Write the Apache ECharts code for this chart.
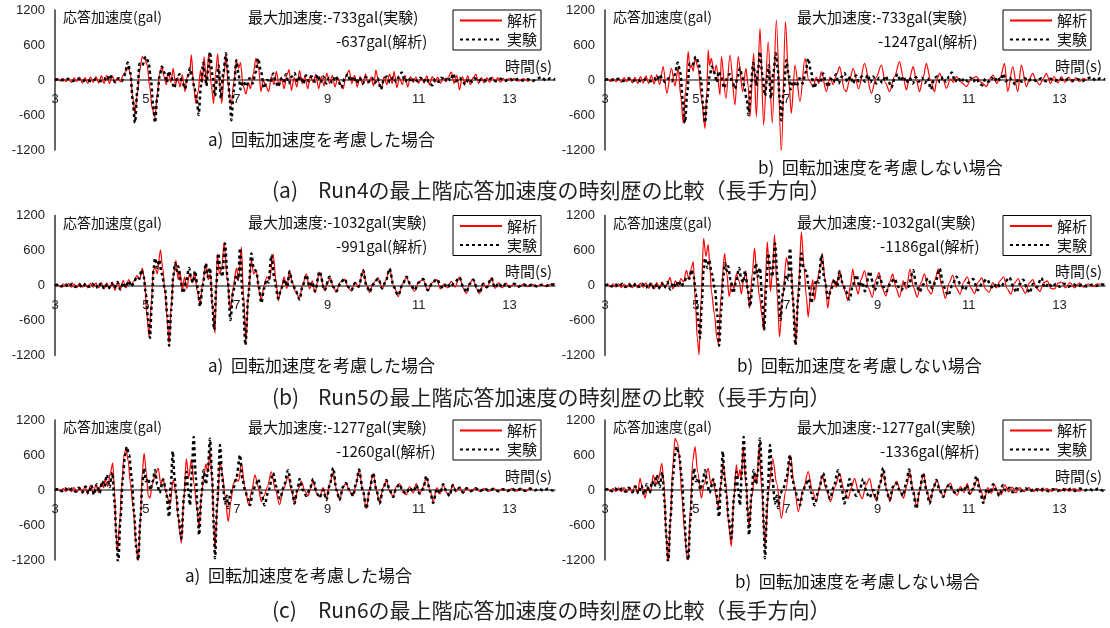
<!DOCTYPE html>
<html><head><meta charset="utf-8">
<script src="https://cdn.jsdelivr.net/npm/echarts@6/dist/echarts.min.js"></script>
<style>html,body{margin:0;padding:0;background:#fff}#c{width:1110px;height:628px}</style>
</head><body><div id="c"></div>
<script>
// ---- tick labels ----
const xTicks = [3, 5, 7, 9, 11, 13];
const xRange = [3, 14];
const yTicks = [-1200, -600, 0, 600, 1200];
const seriesNames = ['解析', '実験'];

// ---- Run4 ----
const run4Exp = [[3.0,0],[3.1,15],[3.2,-10],[3.3,20],[3.4,-15],[3.5,25],[3.6,-20],[3.7,10],[3.8,-25],[3.9,15],[4.0,-20],[4.08,30],[4.15,-15],[4.2,90],[4.28,-10],[4.33,-40],[4.4,30],[4.47,-20],[4.53,80],[4.6,300],[4.66,120],[4.71,-350],[4.76,-733],[4.81,-200],[4.86,280],[4.92,250],[5.0,400],[5.06,300],[5.11,0],[5.16,-450],[5.2,-730],[5.25,-300],[5.3,60],[5.35,230],[5.41,120],[5.46,-40],[5.5,150],[5.56,40],[5.62,-140],[5.68,20],[5.74,100],[5.8,-30],[5.86,-150],[5.92,60],[5.97,200],[6.02,50],[6.07,-150],[6.12,-350],[6.16,-600],[6.21,-100],[6.26,290],[6.3,100],[6.33,-100],[6.37,200],[6.41,480],[6.46,100],[6.52,-270],[6.56,0],[6.6,250],[6.65,-310],[6.7,100],[6.76,460],[6.8,200],[6.84,-300],[6.88,-690],[6.93,-200],[6.99,340],[7.04,100],[7.08,-160],[7.14,-20],[7.21,-110],[7.28,30],[7.35,-60],[7.41,120],[7.47,370],[7.53,150],[7.6,-140],[7.67,0],[7.74,-40],[7.8,110],[7.86,-40],[7.91,-120],[7.97,20],[8.03,-40],[8.08,100],[8.14,-60],[8.2,50],[8.27,120],[8.33,-30],[8.4,60],[8.46,-60],[8.52,80],[8.58,-20],[8.65,60],[8.72,-30],[8.78,90],[8.84,-40],[8.9,60],[8.97,-60],[9.03,40],[9.1,-50],[9.17,70],[9.24,-30],[9.3,-130],[9.37,20],[9.44,100],[9.5,-20],[9.57,60],[9.63,-50],[9.7,40],[9.77,-60],[9.84,50],[9.9,-30],[9.97,40],[10.04,-50],[10.1,30],[10.17,-160],[10.24,20],[10.3,60],[10.37,-40],[10.44,50],[10.5,-30],[10.57,60],[10.63,130],[10.7,-30],[10.77,40],[10.84,-40],[10.9,30],[10.97,-20],[11.04,40],[11.1,-30],[11.17,30],[11.24,-60],[11.3,-90],[11.37,20],[11.44,-30],[11.5,40],[11.57,-20],[11.64,50],[11.7,-10],[11.76,110],[11.82,-20],[11.9,40],[11.97,-30],[12.03,-80],[12.1,20],[12.17,-30],[12.24,30],[12.3,-20],[12.4,20],[12.5,-20],[12.6,30],[12.7,-20],[12.8,20],[12.9,-15],[13.0,25],[13.1,-15],[13.2,20],[13.3,-10],[13.4,15],[13.5,-20],[13.6,20],[13.7,50],[13.8,-10],[13.9,30],[14.0,10]];
const run4AnaRot = [[3.0,0],[3.06,25],[3.12,-20],[3.18,30],[3.24,-30],[3.3,20],[3.36,-40],[3.42,35],[3.48,-25],[3.54,50],[3.6,-50],[3.66,40],[3.72,-60],[3.78,50],[3.84,-40],[3.9,60],[3.96,-50],[4.02,70],[4.08,-60],[4.14,80],[4.2,-60],[4.26,70],[4.32,-40],[4.38,40],[4.44,-30],[4.5,90],[4.56,150],[4.61,230],[4.66,100],[4.71,-300],[4.76,-570],[4.81,-250],[4.86,150],[4.92,400],[4.98,350],[5.03,250],[5.08,-100],[5.14,-500],[5.2,-637],[5.25,-250],[5.3,100],[5.35,230],[5.4,60],[5.45,-80],[5.5,130],[5.55,-40],[5.6,200],[5.65,-80],[5.7,40],[5.75,-120],[5.8,90],[5.86,-200],[5.9,40],[5.96,120],[6.0,430],[6.05,-100],[6.1,-400],[6.15,-200],[6.2,170],[6.24,-50],[6.28,400],[6.33,-100],[6.38,440],[6.44,-100],[6.49,-400],[6.53,100],[6.58,450],[6.63,-150],[6.67,-400],[6.72,100],[6.76,440],[6.81,-100],[6.88,-430],[6.93,-50],[6.99,320],[7.04,200],[7.08,300],[7.14,-100],[7.2,-240],[7.26,-50],[7.3,-150],[7.36,100],[7.42,370],[7.48,200],[7.53,-200],[7.58,0],[7.64,-100],[7.7,-200],[7.76,60],[7.82,-80],[7.87,150],[7.93,-100],[7.98,50],[8.04,-150],[8.1,80],[8.15,180],[8.2,-180],[8.26,40],[8.32,-120],[8.38,160],[8.44,-60],[8.5,60],[8.56,-150],[8.62,80],[8.68,-40],[8.74,100],[8.8,-150],[8.86,60],[8.92,-100],[8.98,120],[9.04,-60],[9.1,80],[9.16,-120],[9.22,40],[9.28,-80],[9.34,-150],[9.4,60],[9.47,170],[9.53,-60],[9.59,80],[9.65,-120],[9.71,60],[9.77,-80],[9.83,100],[9.89,-60],[9.95,40],[10.01,-100],[10.06,170],[10.12,-40],[10.18,-150],[10.24,60],[10.3,-80],[10.36,100],[10.42,-60],[10.46,150],[10.52,-130],[10.58,40],[10.64,-80],[10.7,80],[10.76,-120],[10.82,60],[10.88,-40],[10.94,50],[11.0,-60],[11.06,40],[11.12,-50],[11.18,70],[11.24,-80],[11.3,60],[11.36,-40],[11.42,50],[11.48,-60],[11.54,40],[11.6,-30],[11.66,60],[11.72,140],[11.78,-60],[11.84,80],[11.9,-170],[11.96,60],[12.02,-50],[12.08,70],[12.14,-80],[12.2,40],[12.26,100],[12.32,-60],[12.38,40],[12.44,-50],[12.5,40],[12.56,-40],[12.62,50],[12.68,-30],[12.74,40],[12.8,-40],[12.86,30],[12.92,-30],[12.98,30],[13.04,-20],[13.1,30],[13.2,-20],[13.3,25],[13.4,-20],[13.45,0]];
const run4AnaNoRot = [[3.0,0],[3.06,20],[3.12,-25],[3.18,30],[3.24,-30],[3.3,25],[3.36,-40],[3.42,40],[3.48,-30],[3.54,50],[3.6,-50],[3.66,45],[3.72,-60],[3.78,60],[3.84,-50],[3.9,70],[3.96,-60],[4.02,80],[4.08,-70],[4.14,90],[4.2,-80],[4.28,230],[4.36,-230],[4.46,200],[4.54,-100],[4.61,200],[4.67,-300],[4.72,-740],[4.77,-200],[4.83,485],[4.87,200],[4.9,257],[4.94,150],[4.98,370],[5.05,200],[5.12,-300],[5.2,-830],[5.24,-200],[5.27,514],[5.3,250],[5.34,370],[5.4,100],[5.45,257],[5.53,-257],[5.56,400],[5.66,-314],[5.75,428],[5.86,-428],[5.93,400],[6.03,-200],[6.1,200],[6.15,-100],[6.19,-630],[6.27,457],[6.33,-630],[6.41,885],[6.49,-770],[6.59,657],[6.68,-740],[6.77,1028],[6.88,-1247],[6.97,1000],[7.04,0],[7.1,-570],[7.18,257],[7.29,-370],[7.4,370],[7.48,0],[7.58,-114],[7.65,50],[7.7,-60],[7.76,143],[7.87,-200],[7.95,50],[8.02,-80],[8.1,100],[8.16,228],[8.27,-170],[8.31,-200],[8.38,0],[8.46,200],[8.58,-150],[8.71,285],[8.86,-228],[8.97,50],[9.08,257],[9.17,-50],[9.26,-200],[9.37,60],[9.48,314],[9.56,50],[9.63,-170],[9.7,40],[9.78,228],[9.85,0],[9.92,-200],[10.0,40],[10.07,285],[10.16,0],[10.25,-200],[10.3,0],[10.36,114],[10.44,0],[10.51,-143],[10.6,20],[10.66,-40],[10.73,57],[10.84,-40],[10.95,-114],[11.06,20],[11.17,57],[11.28,-40],[11.39,-114],[11.47,20],[11.54,86],[11.62,-60],[11.7,50],[11.79,285],[11.86,-200],[11.97,228],[12.08,-200],[12.16,257],[12.27,-114],[12.34,20],[12.41,114],[12.48,0],[12.56,-86],[12.64,20],[12.71,114],[12.8,-60],[12.88,60],[12.96,-50],[13.04,60],[13.12,-40],[13.2,50],[13.28,-40],[13.36,40],[13.44,-30],[13.52,30],[13.6,0]];

// ---- Run5 ----
const run5Exp = [[3.0,0],[3.08,20],[3.15,-15],[3.22,25],[3.3,-20],[3.38,30],[3.45,-25],[3.52,20],[3.6,-30],[3.68,35],[3.75,-20],[3.82,30],[3.9,-40],[3.97,40],[4.04,-50],[4.1,30],[4.17,-60],[4.24,40],[4.3,-40],[4.37,60],[4.44,-70],[4.5,50],[4.56,-30],[4.62,80],[4.68,-20],[4.74,60],[4.8,150],[4.86,120],[4.9,270],[4.95,150],[5.0,-150],[5.05,-600],[5.09,-900],[5.13,-300],[5.17,300],[5.2,470],[5.25,300],[5.29,440],[5.35,200],[5.42,-70],[5.47,-500],[5.51,-1032],[5.56,-400],[5.6,150],[5.64,380],[5.68,250],[5.71,330],[5.76,100],[5.82,-130],[5.88,50],[5.95,300],[6.0,100],[6.04,50],[6.08,250],[6.14,-50],[6.19,-360],[6.25,0],[6.32,380],[6.36,150],[6.41,300],[6.46,-300],[6.5,-760],[6.55,0],[6.59,550],[6.64,300],[6.68,150],[6.74,720],[6.8,100],[6.86,-590],[6.92,-100],[6.99,180],[7.03,100],[7.07,640],[7.13,-200],[7.19,-1020],[7.25,-200],[7.32,550],[7.37,300],[7.43,240],[7.48,0],[7.54,-300],[7.6,-50],[7.65,100],[7.7,50],[7.76,520],[7.83,100],[7.91,-220],[7.98,-50],[8.06,100],[8.11,-20],[8.16,240],[8.22,50],[8.3,-100],[8.38,-240],[8.45,0],[8.53,180],[8.6,-20],[8.66,60],[8.72,-100],[8.82,240],[8.93,-80],[9.04,150],[9.12,-20],[9.19,-100],[9.28,40],[9.37,120],[9.45,-20],[9.52,-80],[9.6,40],[9.68,-20],[9.78,260],[9.85,0],[9.92,-110],[10.0,20],[10.11,120],[10.2,-50],[10.28,80],[10.36,290],[10.45,-20],[10.55,-170],[10.64,0],[10.73,150],[10.82,20],[10.91,-80],[11.0,50],[11.1,110],[11.2,-80],[11.3,40],[11.4,110],[11.5,-20],[11.55,-50],[11.62,40],[11.7,-30],[11.8,60],[11.9,140],[11.98,-20],[12.05,-120],[12.12,20],[12.2,100],[12.28,-30],[12.34,-130],[12.42,30],[12.5,-30],[12.6,130],[12.68,-40],[12.76,40],[12.84,-30],[12.92,30],[13.0,-20],[13.1,30],[13.2,-20],[13.3,20],[13.4,-15],[13.5,20],[13.6,-15],[13.7,15],[13.8,-10],[13.9,20],[14.0,10]];
const run5AnaRot = [[3.0,0],[3.06,20],[3.12,-25],[3.18,30],[3.24,-20],[3.3,35],[3.36,-30],[3.42,25],[3.48,-35],[3.54,40],[3.6,-30],[3.66,30],[3.72,-40],[3.78,35],[3.84,-30],[3.9,45],[3.96,-40],[4.02,50],[4.08,-60],[4.14,40],[4.2,-50],[4.26,60],[4.32,-80],[4.38,70],[4.44,-60],[4.5,90],[4.56,-40],[4.62,100],[4.68,20],[4.74,80],[4.8,170],[4.86,100],[4.92,300],[4.97,100],[5.02,-500],[5.07,-880],[5.12,-300],[5.16,250],[5.2,320],[5.25,200],[5.32,610],[5.37,300],[5.42,-100],[5.47,-600],[5.51,-991],[5.56,-300],[5.61,200],[5.66,430],[5.71,100],[5.75,250],[5.8,-100],[5.85,150],[5.9,-50],[5.96,200],[6.02,50],[6.07,220],[6.13,-100],[6.19,-320],[6.25,50],[6.32,380],[6.37,100],[6.42,200],[6.47,-400],[6.52,-820],[6.57,540],[6.62,200],[6.67,300],[6.72,740],[6.79,100],[6.86,-430],[6.92,-50],[6.99,300],[7.04,100],[7.1,660],[7.15,-200],[7.2,-970],[7.26,-100],[7.32,430],[7.37,200],[7.43,250],[7.49,-100],[7.54,-250],[7.6,0],[7.66,150],[7.72,100],[7.8,540],[7.86,100],[7.91,-260],[7.98,-50],[8.04,150],[8.1,-50],[8.16,260],[8.22,50],[8.3,-120],[8.38,-220],[8.45,20],[8.53,200],[8.6,-60],[8.66,80],[8.72,-120],[8.82,230],[8.93,-90],[9.0,60],[9.06,130],[9.12,-40],[9.19,-100],[9.28,60],[9.37,110],[9.45,-40],[9.52,-90],[9.6,60],[9.68,-30],[9.78,270],[9.85,20],[9.92,-120],[10.0,40],[10.11,130],[10.2,-60],[10.28,90],[10.36,280],[10.45,0],[10.55,-190],[10.64,20],[10.73,140],[10.82,0],[10.91,-100],[11.0,60],[11.1,100],[11.2,-90],[11.3,50],[11.4,100],[11.48,-60],[11.56,30],[11.64,-40],[11.72,70],[11.8,-30],[11.9,150],[11.98,-40],[12.05,-140],[12.12,40],[12.2,110],[12.28,-60],[12.34,-140],[12.42,40],[12.5,-40],[12.6,130],[12.68,-50],[12.76,50],[12.84,-40],[12.92,40],[13.0,-30],[13.1,30],[13.2,-25],[13.3,20],[13.4,-20],[13.5,20],[13.6,-10],[13.7,15],[13.8,-15],[13.9,20],[14.0,30]];
const run5AnaNoRot = [[3.0,0],[3.06,25],[3.12,-20],[3.18,30],[3.24,-25],[3.3,30],[3.36,-35],[3.42,25],[3.48,-30],[3.54,40],[3.6,-35],[3.66,30],[3.72,-40],[3.78,40],[3.84,-30],[3.9,45],[3.96,-50],[4.02,40],[4.08,-60],[4.14,50],[4.2,-50],[4.26,60],[4.32,-40],[4.38,50],[4.43,140],[4.49,-60],[4.55,80],[4.61,-20],[4.67,120],[4.73,60],[4.79,260],[4.85,100],[4.9,300],[4.94,410],[4.99,-300],[5.03,-900],[5.07,-1186],[5.11,-300],[5.17,810],[5.22,500],[5.27,700],[5.31,300],[5.34,-100],[5.41,-500],[5.46,-900],[5.5,-1010],[5.55,-200],[5.63,550],[5.68,200],[5.73,-190],[5.79,50],[5.84,-50],[5.89,200],[5.95,80],[6.0,-150],[6.05,100],[6.1,250],[6.14,-100],[6.18,-390],[6.24,200],[6.29,640],[6.34,200],[6.4,-200],[6.45,-500],[6.49,-770],[6.53,100],[6.57,750],[6.61,300],[6.64,-100],[6.68,200],[6.73,870],[6.79,-200],[6.84,-880],[6.91,-200],[6.99,480],[7.04,300],[7.1,250],[7.15,-400],[7.2,-1000],[7.26,0],[7.32,920],[7.38,300],[7.43,-200],[7.47,-540],[7.53,-100],[7.57,100],[7.61,-250],[7.67,100],[7.73,300],[7.78,550],[7.84,100],[7.9,-390],[7.96,-50],[8.02,100],[8.09,-30],[8.16,260],[8.23,20],[8.28,-100],[8.34,-260],[8.4,0],[8.45,280],[8.51,0],[8.57,-150],[8.63,100],[8.71,250],[8.8,-50],[8.88,-200],[8.96,100],[9.03,220],[9.1,-50],[9.18,-180],[9.26,60],[9.33,200],[9.4,-40],[9.48,-200],[9.56,80],[9.63,-60],[9.71,280],[9.79,-40],[9.87,-200],[9.95,50],[10.03,200],[10.11,-80],[10.18,-150],[10.26,100],[10.33,280],[10.41,-20],[10.49,-220],[10.57,40],[10.65,180],[10.73,-40],[10.81,-150],[10.89,60],[10.97,150],[11.05,-40],[11.13,-140],[11.21,60],[11.29,130],[11.37,-60],[11.45,-120],[11.53,50],[11.61,-40],[11.69,80],[11.77,150],[11.85,-60],[11.93,-150],[12.01,40],[12.09,120],[12.17,-40],[12.25,-140],[12.33,40],[12.41,100],[12.49,-40],[12.57,-100],[12.65,50],[12.73,80],[12.81,-50],[12.89,-60],[12.97,40],[13.05,60],[13.13,-40],[13.23,50],[13.33,-40],[13.43,40],[13.53,-30],[13.63,30],[13.73,-20],[13.83,30],[13.93,20]];

// ---- Run6 ----
const run6Exp = [[3.0,0],[3.08,20],[3.15,-20],[3.22,30],[3.3,-15],[3.38,25],[3.45,-30],[3.52,40],[3.6,-40],[3.67,60],[3.74,-60],[3.8,80],[3.86,-80],[3.92,100],[3.98,-50],[4.04,150],[4.09,60],[4.14,260],[4.2,50],[4.26,300],[4.31,-200],[4.35,-800],[4.39,-1277],[4.44,-500],[4.49,200],[4.54,600],[4.58,740],[4.63,600],[4.69,200],[4.74,-400],[4.79,-1000],[4.83,-1200],[4.88,-500],[4.92,100],[4.96,370],[5.0,150],[5.05,200],[5.1,0],[5.15,150],[5.2,340],[5.25,100],[5.3,-50],[5.38,180],[5.44,0],[5.51,-460],[5.55,100],[5.59,660],[5.63,200],[5.67,-100],[5.72,-500],[5.78,-830],[5.84,-100],[5.89,310],[5.93,0],[5.97,-260],[6.01,300],[6.05,910],[6.1,200],[6.14,-400],[6.17,-770],[6.22,-100],[6.27,340],[6.32,100],[6.36,300],[6.41,880],[6.46,200],[6.49,-600],[6.52,-1170],[6.57,-200],[6.63,770],[6.68,200],[6.74,-230],[6.78,-100],[6.81,-310],[6.86,-50],[6.92,20],[6.99,200],[7.07,600],[7.12,200],[7.18,0],[7.24,-150],[7.29,-260],[7.36,0],[7.42,100],[7.47,190],[7.54,-50],[7.61,-260],[7.7,0],[7.8,290],[7.87,50],[7.95,-150],[8.03,50],[8.13,340],[8.2,50],[8.27,-230],[8.33,0],[8.38,190],[8.45,0],[8.53,-100],[8.6,0],[8.68,190],[8.76,-60],[8.82,-130],[8.9,0],[8.97,-170],[9.05,100],[9.12,380],[9.19,0],[9.26,-170],[9.34,60],[9.4,120],[9.48,0],[9.56,-100],[9.62,100],[9.69,350],[9.77,0],[9.85,-320],[9.92,0],[10.0,290],[10.07,0],[10.14,-230],[10.22,20],[10.29,170],[10.36,0],[10.44,-120],[10.51,40],[10.58,100],[10.65,-20],[10.73,-60],[10.8,40],[10.88,-30],[10.95,80],[11.02,-60],[11.1,20],[11.17,240],[11.25,-20],[11.32,-220],[11.4,20],[11.47,-60],[11.54,100],[11.62,-40],[11.68,-100],[11.75,80],[11.82,-20],[11.9,40],[11.98,-40],[12.05,30],[12.15,-20],[12.25,30],[12.35,-20],[12.45,25],[12.55,-15],[12.65,20],[12.75,-20],[12.85,15],[12.95,-20],[13.05,20],[13.15,-15],[13.25,20],[13.35,-15],[13.45,25],[13.55,-10],[13.65,20],[13.75,-15],[13.85,25],[13.95,-10],[14.0,5]];
const run6AnaRot = [[3.0,0],[3.06,25],[3.12,-20],[3.18,30],[3.24,-25],[3.3,35],[3.36,-30],[3.42,40],[3.48,-40],[3.54,50],[3.6,-50],[3.66,60],[3.72,-70],[3.78,80],[3.84,-60],[3.9,90],[3.96,-40],[4.02,120],[4.07,40],[4.1,180],[4.16,60],[4.22,300],[4.27,460],[4.31,0],[4.34,-700],[4.37,-1060],[4.42,-600],[4.47,100],[4.52,600],[4.56,710],[4.61,500],[4.66,100],[4.72,-300],[4.78,-900],[4.83,-1260],[4.88,-500],[4.92,300],[4.96,630],[5.01,300],[5.05,-100],[5.09,-140],[5.14,100],[5.2,250],[5.27,370],[5.33,100],[5.38,200],[5.44,-50],[5.53,-250],[5.6,170],[5.65,0],[5.7,-400],[5.74,-700],[5.78,-910],[5.83,-200],[5.89,540],[5.94,200],[6.0,520],[6.06,100],[6.12,-300],[6.17,-660],[6.22,-100],[6.27,200],[6.32,450],[6.36,300],[6.41,660],[6.46,100],[6.49,-500],[6.52,-1000],[6.57,-300],[6.63,490],[6.68,300],[6.74,-100],[6.81,-540],[6.87,-200],[6.92,100],[6.98,190],[7.04,150],[7.1,460],[7.18,50],[7.26,-260],[7.33,0],[7.4,260],[7.47,50],[7.54,-200],[7.6,-100],[7.67,50],[7.76,310],[7.85,0],[7.94,-250],[8.02,0],[8.13,230],[8.2,0],[8.27,-220],[8.34,0],[8.42,150],[8.5,-20],[8.57,-100],[8.62,20],[8.68,170],[8.75,-50],[8.82,-120],[8.9,40],[8.97,-150],[9.04,100],[9.12,300],[9.19,20],[9.26,-170],[9.34,50],[9.4,120],[9.48,-20],[9.56,-100],[9.62,80],[9.69,350],[9.77,0],[9.85,-320],[9.92,20],[10.0,280],[10.07,0],[10.14,-220],[10.22,40],[10.29,170],[10.36,-20],[10.44,-110],[10.51,60],[10.58,110],[10.65,-40],[10.73,-80],[10.8,60],[10.88,-50],[10.95,110],[11.02,-70],[11.1,50],[11.17,220],[11.25,0],[11.32,-200],[11.4,40],[11.47,-70],[11.54,90],[11.62,-50],[11.68,-90],[11.75,100],[11.82,-30],[11.9,50],[11.98,-60],[12.05,40],[12.15,-30],[12.25,40],[12.35,-30],[12.45,30],[12.55,-25],[12.65,30],[12.75,-25],[12.85,25],[12.95,-20],[13.05,30],[13.15,-20],[13.25,30],[13.35,-20],[13.45,30],[13.5,0]];
const run6AnaNoRot = [[3.0,0],[3.06,25],[3.12,-20],[3.18,30],[3.24,-25],[3.3,35],[3.36,-30],[3.42,40],[3.48,-40],[3.54,50],[3.6,-50],[3.66,80],[3.72,-60],[3.77,200],[3.82,40],[3.88,-140],[3.94,60],[4.0,-50],[4.06,257],[4.12,100],[4.18,200],[4.25,457],[4.3,100],[4.34,-700],[4.39,-1336],[4.44,-500],[4.49,400],[4.54,885],[4.6,800],[4.64,500],[4.69,-100],[4.75,-700],[4.8,-1150],[4.83,-1200],[4.88,-300],[4.93,500],[4.98,743],[5.04,300],[5.12,-140],[5.18,100],[5.27,370],[5.33,100],[5.38,200],[5.44,-100],[5.49,-285],[5.55,100],[5.6,457],[5.66,100],[5.72,-600],[5.78,-970],[5.83,-200],[5.89,430],[5.93,200],[5.97,350],[6.0,200],[6.04,743],[6.1,100],[6.17,-630],[6.23,-100],[6.3,300],[6.34,100],[6.39,743],[6.45,0],[6.52,-943],[6.6,0],[6.69,540],[6.78,100],[6.88,-485],[6.98,0],[7.08,600],[7.16,100],[7.25,-370],[7.36,0],[7.47,314],[7.56,0],[7.65,-200],[7.72,50],[7.78,257],[7.87,0],[7.96,-200],[8.06,50],[8.16,285],[8.26,0],[8.35,-150],[8.42,40],[8.49,200],[8.58,-40],[8.66,-150],[8.74,80],[8.82,200],[8.9,-60],[8.97,-180],[9.05,100],[9.12,300],[9.2,0],[9.27,-200],[9.35,60],[9.42,150],[9.5,-30],[9.57,-140],[9.64,80],[9.7,320],[9.78,0],[9.86,-300],[9.93,30],[10.01,280],[10.08,0],[10.15,-220],[10.23,40],[10.3,180],[10.38,-20],[10.45,-120],[10.52,60],[10.6,120],[10.67,-40],[10.75,-90],[10.82,60],[10.9,-40],[10.97,110],[11.04,-70],[11.12,50],[11.19,200],[11.27,0],[11.34,-180],[11.42,40],[11.5,-60],[11.57,90],[11.65,-50],[11.72,-80],[11.8,90],[11.88,-30],[11.96,50],[12.04,-50],[12.12,40],[12.22,-30],[12.32,40],[12.42,-30],[12.52,30],[12.62,-25],[12.72,30],[12.82,-25],[12.92,25],[13.02,-20],[13.12,30],[13.22,-20],[13.32,30],[13.42,-20],[13.5,0]];

// ---- texts ----
const maxExpTexts = ['最大加速度:-733gal(実験)', '最大加速度:-733gal(実験)', '最大加速度:-1032gal(実験)', '最大加速度:-1032gal(実験)', '最大加速度:-1277gal(実験)', '最大加速度:-1277gal(実験)'];
const maxAnaTexts = ['-637gal(解析)', '-1247gal(解析)', '-991gal(解析)', '-1186gal(解析)', '-1260gal(解析)', '-1336gal(解析)'];
const panelCaptions = ['a)  回転加速度を考慮した場合', 'b)  回転加速度を考慮しない場合', 'a)  回転加速度を考慮した場合', 'b)  回転加速度を考慮しない場合', 'a)  回転加速度を考慮した場合', 'b)  回転加速度を考慮しない場合'];
const rowCaptionTags = ['(a)', '(b)', '(c)'];
const rowCaptions = ['Run4の最上階応答加速度の時刻歴の比較（長手方向）', 'Run5の最上階応答加速度の時刻歴の比較（長手方向）', 'Run6の最上階応答加速度の時刻歴の比較（長手方向）'];
const yTitle = '応答加速度(gal)';
const xTitle = '時間(s)';

// ---- layout (pixels) ----
const JP = "'Noto Sans CJK JP', sans-serif";
const NUM = "'Liberation Sans', Arial, sans-serif";
const panelData = [
  [run4AnaRot, run4Exp], [run4AnaNoRot, run4Exp],
  [run5AnaRot, run5Exp], [run5AnaNoRot, run5Exp],
  [run6AnaRot, run6Exp], [run6AnaNoRot, run6Exp]
];
const rowZero = [80, 285.5, 490];
const colLeft = [55, 605];
const capPos = [[208, 140], [758, 168], [208, 366], [737, 366], [185, 576], [735, 582]];
const line2X = [336, 878, 336, 880, 336, 880];
const rowCapY = [190, 397, 610];

const grids = [], xAxes = [], yAxes = [], series = [], legends = [], graphics = [];
panelData.forEach((pd, i) => {
  const r = Math.floor(i / 2), c = i % 2;
  const z = rowZero[r], L = colLeft[c], off = c * 550;
  grids.push({ left: L, top: z - 70, width: 500, height: 140, containLabel: false });
  xAxes.push({
    type: 'value', gridIndex: i, min: xRange[0], max: xRange[1], interval: 2,
    position: 'bottom', offset: -70,
    axisLine: { onZero: false, lineStyle: { color: '#555', width: 1.5 } },
    axisTick: { show: false }, splitLine: { show: false },
    axisLabel: { margin: 13, fontSize: 13, color: '#222', fontFamily: NUM,
      formatter: v => xTicks.includes(v) ? String(v) : '' }
  });
  yAxes.push({
    type: 'value', gridIndex: i, min: yTicks[0], max: yTicks[yTicks.length - 1], interval: 600,
    axisLine: { show: true, lineStyle: { color: '#333', width: 1.5 } },
    axisTick: { show: false }, splitLine: { show: false },
    axisLabel: { margin: 10, fontSize: 13, color: '#222', fontFamily: NUM,
      formatter: v => yTicks.includes(v) ? String(v) : '' }
  });
  series.push({ name: seriesNames[0], type: 'line', xAxisIndex: i, yAxisIndex: i, data: pd[0],
    symbol: 'none', showSymbol: false, smooth: 0.3, smoothMonotone: 'x',
    lineStyle: { color: '#ff0000', width: 1.2 }, itemStyle: { color: '#ff0000' }, z: 2 });
  series.push({ name: seriesNames[1], type: 'line', xAxisIndex: i, yAxisIndex: i, data: pd[1],
    symbol: 'none', showSymbol: false, smooth: 0.3, smoothMonotone: 'x',
    lineStyle: { color: '#000', width: 2.5, type: [3, 3] }, itemStyle: { color: '#000' }, z: 3 });
  legends.push({
    data: seriesNames, orient: 'vertical', left: 453 + off, top: z - 70,
    itemWidth: 42, itemHeight: 14, itemGap: 4, padding: [3, 4, 3, 6],
    itemStyle: { opacity: 0 },
    borderColor: '#000', borderWidth: 1, backgroundColor: '#fff',
    textStyle: { fontSize: 15, color: '#111', fontFamily: JP }, selectedMode: false
  });
  const ts = (text, x, y, size, align) => ({ type: 'text', x: x, y: y, silent: true,
    style: { text, fontSize: size, fontFamily: JP, fill: '#111', textAlign: align || 'left', align: align || 'left',
      textVerticalAlign: 'middle', verticalAlign: 'middle' } });
  graphics.push(ts(yTitle, L + 8, z - 63, 14));
  graphics.push(ts(maxExpTexts[i], 248 + off - (c ? 1 : 0), z - 63, 15));
  graphics.push(ts(maxAnaTexts[i], line2X[i], z - 39, 15));
  graphics.push(ts(xTitle, 505 + off, z - 14, 15));
  graphics.push(ts(panelCaptions[i], capPos[i][0], capPos[i][1], 17));
});
rowCaptions.forEach((t, r) => {
  [[rowCaptionTags[r], 272], [t, 318]].forEach(([txt, x]) => {
    graphics.push({ type: 'text', x: x, y: rowCapY[r], silent: true,
      style: { text: txt, fontSize: 21, fontFamily: JP, fill: '#222', textAlign: 'left', align: 'left',
        textVerticalAlign: 'middle', verticalAlign: 'middle' } });
  });
});

const chart = echarts.init(document.getElementById('c'));
chart.setOption({
  animation: false, backgroundColor: '#fff',
  grid: grids, xAxis: xAxes, yAxis: yAxes, series: series, legend: legends,
  graphic: graphics
});
</script></body></html>
